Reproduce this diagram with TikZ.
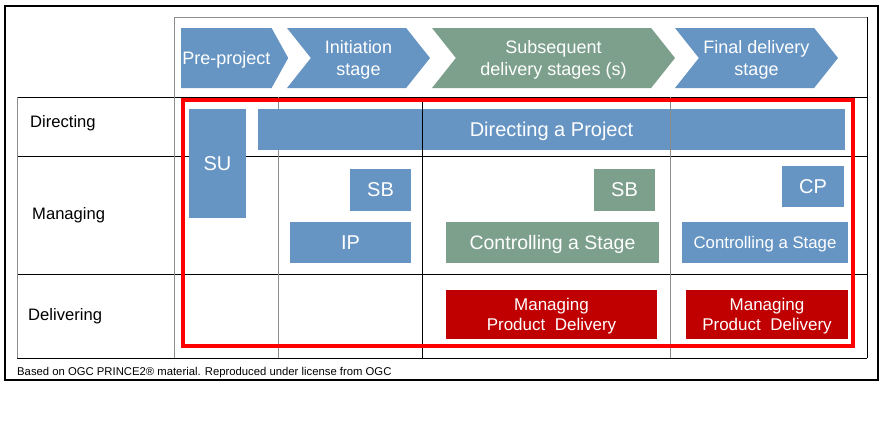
\documentclass[tikz,border=0pt]{standalone}
\usepackage{fontspec}
\setmainfont{Liberation Sans}
\usetikzlibrary{shapes.symbols}
\definecolor{stageblue}{RGB}{102,149,195}
\definecolor{stagegreen}{RGB}{125,160,141}
\definecolor{mpdred}{RGB}{192,0,0}
\definecolor{framered}{RGB}{255,0,0}

\begin{document}
\begin{tikzpicture}[
  x=1pt, y=-1pt,
  stage/.style={signal, signal to=east, signal from=west, signal pointer angle=103, minimum height=60pt, inner sep=0pt, text depth=0pt, text=white, align=center, font=\fontsize{18}{22}\selectfont},
  procbox/.style={inner sep=0pt, text depth=0pt, text=white, align=center, font=\fontsize{20}{24}\selectfont},
  rowlabel/.style={anchor=west, inner sep=0pt, text depth=0pt, font=\fontsize{16.6}{20}\selectfont},
  hline/.style={line width=0.8pt, black},
  vline/.style={line width=0.8pt, black!45}
]
\useasboundingbox (0,0) rectangle (884,431);
\fill[white] (0,0) rectangle (884,431);
\draw[line width=2pt] (5,6) rectangle (878,380);

\draw[vline] (174,17) -- (867,17);
\draw[hline] (17,97) -- (867,97);
\draw[hline] (17,156) -- (867,156);
\draw[hline] (17,274) -- (867,274);
\draw[hline] (17,358) -- (867,358);
\draw[vline] (17,97) -- (17,358);
\draw[vline] (174,17) -- (174,358);
\draw[vline] (278,97) -- (278,358);
\draw[hline] (867,17) -- (867,358);

\node[stage, signal from=nowhere, signal pointer angle=122, inner xsep=1pt, fill=stageblue, minimum width=107pt, anchor=west] (pre) at (181,58) {Pre-project};
\node[stage, fill=stageblue, minimum width=143pt] (init) at (358.5,58) {Initiation\\stage};
\node[stage, fill=stagegreen, minimum width=243pt] (subseq) at (553.5,58) {Subsequent\\delivery stages (s)};
\node[stage, fill=stageblue, minimum width=163pt] (final) at (756.5,58) {Final delivery\\stage};

\node[rowlabel] (dir) at (30,121.5) {Directing};
\node[rowlabel] (man) at (32,213) {Managing};
\node[rowlabel] (del) at (28,314) {Delivering};

\node[procbox, fill=stageblue, minimum width=57pt, minimum height=109pt] (su) at (217.5,163.5) {SU};
\node[procbox, fill=stageblue, minimum width=587pt, minimum height=41pt] (dp) at (551.5,129.5) {Directing a Project};
\node[procbox, fill=stageblue, minimum width=61pt, minimum height=42pt] (sbone) at (380.5,190) {SB};
\node[procbox, fill=stageblue, minimum width=121pt, minimum height=41pt] (ip) at (350.5,242.5) {IP};
\node[procbox, fill=stagegreen, minimum width=61pt, minimum height=42pt] (sbtwo) at (624.5,190) {SB};
\node[procbox, fill=stagegreen, minimum width=213pt, minimum height=41pt, font=\fontsize{19.5}{23}\selectfont] (csgreen) at (552.5,242.5) {Controlling a Stage};
\node[procbox, fill=stageblue, minimum width=62pt, minimum height=41pt] (cp) at (813,186.5) {CP};
\node[procbox, fill=stageblue, minimum width=166pt, minimum height=41pt, font=\fontsize{16.8}{20}\selectfont] (csblue) at (765,242.5) {Controlling a Stage};
\node[procbox, fill=mpdred, minimum width=211pt, minimum height=49pt, font=\fontsize{17}{20}\selectfont] (mpdone) at (551.5,314.5) {Managing\\Product\ \ Delivery};
\node[procbox, fill=mpdred, minimum width=162pt, minimum height=49pt, font=\fontsize{17}{20}\selectfont] (mpdtwo) at (767,314.5) {Managing\\Product\ \ Delivery};

\draw[hline] (422,97) -- (422,358);
\draw[vline] (670,97) -- (670,358);
\draw[framered, line width=3.5pt] (183,100) rectangle (853,346);

\node[anchor=west, inner sep=0pt, text depth=0pt, font=\fontsize{11.3}{13}\selectfont] (note) at (17,371) {Based on OGC PRINCE2® material. Reproduced under license from OGC};
\end{tikzpicture}
\end{document}
